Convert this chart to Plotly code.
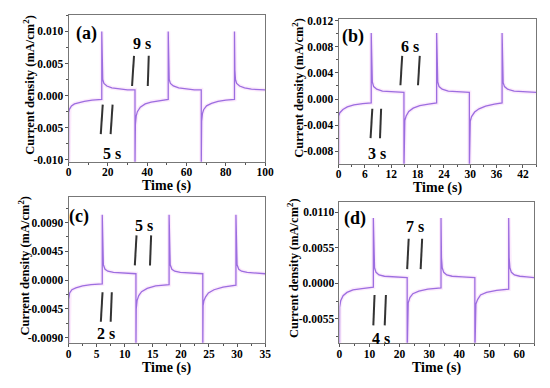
import plotly.graph_objects as go

# ---------------- data ----------------
a_t = [0, 0.05, 0.5, 1.5, 3, 5, 8, 12, 16.9,
       16.9, 17.1, 17.4, 18, 19.5, 22, 26, 30, 33.8,
       33.8, 34.0, 34.4, 35, 36.5, 39, 42, 46, 50.7,
       50.7, 50.9, 51.2, 51.8, 53.3, 56, 60, 64, 67.5,
       67.5, 67.7, 68.1, 68.7, 70.2, 72.7, 76, 80, 84.4,
       84.4, 84.6, 84.9, 85.5, 87, 89.5, 93, 97, 100]
a_j = [-0.0110, -0.0026, -0.0021, -0.0016, -0.0013, -0.0011, -0.0009, -0.0007, -0.0006,
       0.0100, 0.0040, 0.0025, 0.0019, 0.0015, 0.0012, 0.0010, 0.0009, 0.0009,
       -0.0110, -0.0045, -0.0032, -0.0025, -0.0018, -0.0013, -0.0010, -0.0008, -0.0006,
       0.0100, 0.0040, 0.0025, 0.0019, 0.0015, 0.0012, 0.0010, 0.0009, 0.0009,
       -0.0110, -0.0040, -0.0028, -0.0022, -0.0016, -0.0012, -0.0009, -0.0007, -0.0006,
       0.0100, 0.0040, 0.0025, 0.0019, 0.0015, 0.0012, 0.0010, 0.0009, 0.0009]

b_t = [0, 0.02, 0.3, 1, 2, 3.5, 5.5, 7.45,
       7.45, 7.55, 7.7, 8, 8.7, 10, 12, 14.9,
       14.9, 14.95, 15.1, 15.4, 16, 17, 18.5, 20.5, 22.35,
       22.35, 22.45, 22.6, 22.9, 23.6, 25, 27, 29.8,
       29.8, 29.85, 30.0, 30.3, 31, 32, 33.5, 35.5, 37.25,
       37.25, 37.35, 37.5, 37.8, 38.5, 40, 42.5, 45]
b_j = [-0.0110, -0.0026, -0.0021, -0.0016, -0.0012, -0.0009, -0.0007, -0.0006,
       0.0101, 0.0040, 0.0026, 0.0019, 0.0015, 0.0012, 0.0011, 0.0010,
       -0.0110, -0.0045, -0.0033, -0.0026, -0.0019, -0.0014, -0.0010, -0.0008, -0.0006,
       0.0101, 0.0040, 0.0026, 0.0019, 0.0015, 0.0012, 0.0011, 0.0010,
       -0.0110, -0.0046, -0.0034, -0.0027, -0.0020, -0.0015, -0.0011, -0.0008, -0.0006,
       0.0101, 0.0036, 0.0025, 0.0019, 0.0015, 0.0012, 0.0011, 0.0010]

c_t = [0, 0.02, 0.2, 0.6, 1.3, 2.5, 4, 6.0,
       6.0, 6.08, 6.2, 6.5, 7, 8, 10, 12.0,
       12.0, 12.05, 12.2, 12.5, 13, 14, 15.5, 17.9,
       17.9, 17.98, 18.1, 18.4, 18.9, 19.9, 21.9, 23.9,
       23.9, 23.95, 24.1, 24.4, 24.9, 25.9, 27.5, 29.8,
       29.8, 29.88, 30.0, 30.3, 30.8, 31.8, 33.5, 35]
c_j = [-0.0110, -0.0030, -0.0020, -0.0015, -0.0012, -0.0009, -0.0007, -0.0006,
       0.0102, 0.0040, 0.0024, 0.0017, 0.0014, 0.0012, 0.0011, 0.0010,
       -0.0110, -0.0045, -0.0032, -0.0024, -0.0018, -0.0013, -0.0009, -0.0007,
       0.0102, 0.0040, 0.0024, 0.0017, 0.0014, 0.0012, 0.0011, 0.0010,
       -0.0110, -0.0040, -0.0032, -0.0026, -0.0020, -0.0015, -0.0011, -0.0008,
       0.0102, 0.0040, 0.0024, 0.0017, 0.0014, 0.0012, 0.0011, 0.0010]

d_t = [0, 0.03, 0.4, 1.2, 2.5, 4.5, 7.5, 11.3,
       11.3, 11.45, 11.7, 12.2, 13.2, 15, 18.5, 22.6,
       22.6, 22.7, 22.95, 23.5, 24.5, 26.5, 29.5, 33.9,
       33.9, 34.05, 34.3, 34.8, 35.8, 37.6, 41, 45.2,
       45.2, 45.3, 45.55, 46.1, 47.1, 49.1, 52.5, 56.5,
       56.5, 56.65, 56.9, 57.4, 58.4, 60.2, 62.5, 65]
d_j = [-0.0110, -0.0037, -0.0027, -0.0019, -0.0014, -0.0010, -0.0008, -0.0006,
       0.0101, 0.0040, 0.0024, 0.0017, 0.0013, 0.0011, 0.0010, 0.0009,
       -0.0110, -0.0040, -0.0030, -0.0022, -0.0016, -0.0012, -0.0009, -0.0007,
       0.0101, 0.0040, 0.0024, 0.0017, 0.0013, 0.0011, 0.0010, 0.0009,
       -0.0110, -0.0042, -0.0032, -0.0025, -0.0018, -0.0014, -0.0011, -0.0009,
       0.0101, 0.0040, 0.0024, 0.0017, 0.0013, 0.0011, 0.0010, 0.0009]

# y tick values and labels per panel
a_yticks = [-0.010, -0.005, 0.0, 0.005, 0.010]
a_ylabels = ["-0.010", "-0.005", "0.000", "0.005", "0.010"]
b_yticks = [-0.008, -0.004, 0.0, 0.004, 0.008, 0.012]
b_ylabels = ["-0.008", "-0.004", "0.000", "0.004", "0.008", "0.012"]
c_yticks = [-0.009, -0.0045, 0.0, 0.0045, 0.009]
c_ylabels = ["-0.0090", "-0.0045", "0.0000", "0.0045", "0.0090"]
d_yticks = [-0.0055, 0.0, 0.0055, 0.011]
d_ylabels = ["-0.0055", "0.0000", "0.0055", "0.0110"]

panel_labels = ["(a)", "(b)", "(c)", "(d)"]
upper_labels = ["9 s", "6 s", "5 s", "7 s"]
lower_labels = ["5 s", "3 s", "2 s", "4 s"]

# annotation marker lines [x0, x1] pairs and [y_bottom, y_top]
upper_lines_x = [[(32.3, 33.3), (40.3, 40.8)], [(14.1, 14.5), (18.1, 18.5)],
                 [(11.8, 12.1), (14.5, 14.7)], [(22.6, 23.1), (27.1, 27.6)]]
upper_lines_y = [(0.0015, 0.0062), (0.0021, 0.0066), (0.0023, 0.0070), (0.0022, 0.0069)]
lower_lines_x = [[(16.4, 17.4), (21.4, 22.4)], [(7.3, 7.7), (9.45, 9.7)],
                 [(5.75, 6.05), (7.5, 7.7)], [(11.3, 11.7), (15.1, 15.5)]]
lower_lines_y = [(-0.0060, -0.0014), (-0.0060, -0.0015), (-0.0065, -0.0019), (-0.0065, -0.0018)]
upper_label_pos = [(37.3, 0.0082), (16.3, 0.0080), (13.4, 0.0085), (25.1, 0.0088)]
lower_label_pos = [(21.9, -0.0091), (8.7, -0.0084), (6.6, -0.0083), (13.7, -0.0085)]
panel_label_pos = [(9.0, 0.0097), (3.3, 0.0096), (1.8, 0.0100), (5.3, 0.0100)]

# ---------------- layout ----------------
W, H = 550, 388
FONT = "Liberation Serif"
panels = [
    dict(t=a_t, j=a_j, xr=[0, 100], xd=20, xm=10, yr=[-0.0103, 0.0126], yv=a_yticks, yl=a_ylabels,
         ym=0.0025, px=(67, 268), py=(11, 161), yt_off=40, xt_off=25),
    dict(t=b_t, j=b_j, xr=[0, 45], xd=6, xm=3, yr=[-0.0099, 0.0123], yv=b_yticks, yl=b_ylabels,
         ym=0.002, px=(343, 545), py=(15, 163), yt_off=41, xt_off=25),
    dict(t=c_t, j=c_j, xr=[0, 35], xd=5, xm=2.5, yr=[-0.0098, 0.0130], yv=c_yticks, yl=c_ylabels,
         ym=0.00225, px=(67, 268), py=(197, 346), yt_off=46, xt_off=26),
    dict(t=d_t, j=d_j, xr=[0, 65], xd=10, xm=5, yr=[-0.0092, 0.0126], yv=d_yticks, yl=d_ylabels,
         ym=0.00275, px=(344, 543), py=(202, 346), yt_off=47, xt_off=26),
]

fig = go.Figure()
layout = dict(width=W, height=H, margin=dict(l=0, r=0, t=0, b=0),
              paper_bgcolor="white", plot_bgcolor="white", showlegend=False)
shapes = []
annotations = []
tickfont = dict(family=FONT, size=11.5, color="black", weight="bold")

for i, p in enumerate(panels):
    n = "" if i == 0 else str(i + 1)
    xa, ya = "x" + n, "y" + n
    fig.add_trace(go.Scatter(x=p["t"], y=p["j"], mode="lines", xaxis=xa, yaxis=ya,
                             line=dict(color="rgba(240,140,240,0.18)", width=4), hoverinfo="skip"))
    fig.add_trace(go.Scatter(x=p["t"], y=p["j"], mode="lines", xaxis=xa, yaxis=ya,
                             line=dict(color="#9c6ee0", width=1.3)))
    x0, x1 = p["px"]
    yt, yb = p["py"]
    layout["xaxis" + n] = dict(domain=[x0 / W, x1 / W], anchor=ya, range=p["xr"], dtick=p["xd"], tick0=0,
                               showgrid=False, zeroline=False, showline=True, mirror=True,
                               linecolor="#777", linewidth=1, ticks="outside", ticklen=3, tickcolor="#555",
                               ticklabelstandoff=-3,
                               tickfont=tickfont, minor=dict(ticks="outside", ticklen=2, dtick=p["xm"],
                                                             tickcolor="#555"))
    layout["yaxis" + n] = dict(domain=[(H - yb) / H, (H - yt) / H], anchor=xa, range=p["yr"],
                               tickmode="array", tickvals=p["yv"], ticktext=p["yl"],
                               showgrid=False, zeroline=False, showline=True, mirror=True,
                               linecolor="#777", linewidth=1, ticks="outside", ticklen=3, tickcolor="#555",
                               ticklabelstandoff=-1,
                               tickfont=tickfont, minor=dict(ticks="outside", ticklen=2, dtick=p["ym"],
                                                             tick0=0, tickcolor="#555"))
    # marker lines
    for (lx0, lx1) in upper_lines_x[i]:
        shapes.append(dict(type="line", xref=xa, yref=ya, x0=lx0, x1=lx1,
                           y0=upper_lines_y[i][0], y1=upper_lines_y[i][1],
                           line=dict(color="#333", width=2)))
    for (lx0, lx1) in lower_lines_x[i]:
        shapes.append(dict(type="line", xref=xa, yref=ya, x0=lx0, x1=lx1,
                           y0=lower_lines_y[i][0], y1=lower_lines_y[i][1],
                           line=dict(color="#333", width=2)))
    mid = dict(family=FONT, size=16, color="black", weight="bold")
    big = dict(family=FONT, size=18, color="black", weight="bold")
    for (lx, ly), txt, f in [(upper_label_pos[i], upper_labels[i], mid),
                             (lower_label_pos[i], lower_labels[i], mid),
                             (panel_label_pos[i], panel_labels[i], big)]:
        annotations.append(dict(x=lx, y=ly, xref=xa, yref=ya, text=txt, showarrow=False,
                                font=f, xanchor="center", yanchor="middle"))
    # axis titles
    annotations.append(dict(x=(x0 + x1) / 2 / W, y=(H - (yb + p["xt_off"])) / H, xref="paper", yref="paper",
                            text="Time (s)", showarrow=False, xanchor="center", yanchor="middle",
                            font=dict(family=FONT, size=14, color="black", weight="bold")))
    annotations.append(dict(x=(x0 - p["yt_off"]) / W, y=(H - ((yt + yb) / 2 - 4)) / H,
                            xref="paper", yref="paper",
                            text="Current density (mA/cm<sup>2</sup>)", showarrow=False, textangle=-90,
                            xanchor="center", yanchor="middle",
                            font=dict(family=FONT, size=12.5, color="black", weight="bold")))

layout["shapes"] = shapes
layout["annotations"] = annotations
fig.update_layout(**layout)
fig.write_html("out.html", config={"displayModeBar": False},
               post_script="document.body.style.margin='0';document.body.style.overflow='hidden';")
